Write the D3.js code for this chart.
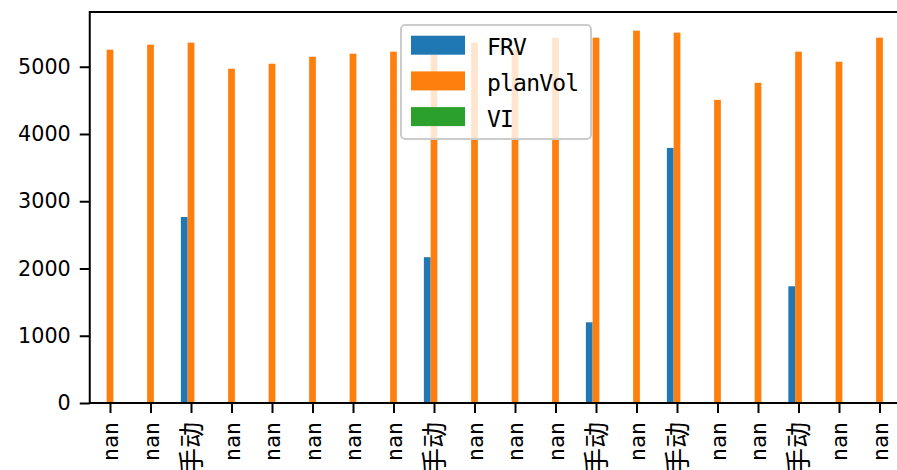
<!DOCTYPE html>
<html>
<head>
<meta charset="utf-8">
<script src="https://cdn.jsdelivr.net/npm/d3@7"></script>
<style>
  body { margin: 0; background: #fff; }
  svg { display: block; }
</style>
</head>
<body>
<svg id="chart" width="897" height="470"></svg>
<script>
// data
var labels = ["nan","nan","手动","nan","nan","nan","nan","nan","手动","nan",
              "nan","nan","手动","nan","手动","nan","nan","手动","nan","nan"];
var frv = [null,null,2765,null,null,null,null,null,2168,null,
           null,null,1200,null,3793,null,null,1736,null,null];
var planVol = [5253,5328,5358,4970,5045,5149,5194,5224,5180,5358,
               5253,5432,5432,5537,5507,4508,4761,5224,5075,5432];
var vi = [null,null,null,null,null,null,null,null,null,null,
          null,null,null,null,null,null,null,null,null,null];
var yTicks = [0,1000,2000,3000,4000,5000];

var seriesNames = ["FRV","planVol","VI"];
var seriesColors = ["#1f77b4","#ff7f0e","#2ca02c"];
var seriesData = [frv, planVol, vi];

var svg = d3.select("#chart");
// plot box (right spine falls just outside the picture, as in the original)
var plotL = 89.75, plotR = 899.75, plotT = 12, plotB = 403;

var x = d3.scaleLinear().domain([-0.5, labels.length - 0.5]).range([plotL, plotR]);
var yMax = d3.max(planVol.concat(frv)) * 1.05;
var y = d3.scaleLinear().domain([0, yMax]).range([plotB, plotT]);

var step = x(1) - x(0);
var barW = step * 0.5 / 3;

// bars
seriesData.forEach(function(vals, s) {
  var pts = vals.map(function(v, i) { return {i: i, v: v}; })
                .filter(function(d) { return d.v != null; });
  svg.append("g").selectAll("rect").data(pts).enter().append("rect")
    .attr("x", function(d) { return x(d.i) + (s - 1) * barW - barW / 2; })
    .attr("width", barW)
    .attr("y", function(d) { return y(d.v); })
    .attr("height", function(d) { return y(0) - y(d.v); })
    .attr("fill", seriesColors[s]);
});

// axes
var yAxis = svg.append("g")
    .attr("transform", "translate(" + plotL + ",0)")
    .call(d3.axisLeft(y).tickValues(yTicks).tickSize(10).tickPadding(9).tickFormat(d3.format("d")));
yAxis.selectAll("text")
    .attr("font-family", "DejaVu Sans")
    .attr("font-size", "20.7px")
    .attr("fill", "#000");

var xAxis = svg.append("g")
    .attr("transform", "translate(0," + plotB + ")")
    .call(d3.axisBottom(x).tickValues(d3.range(labels.length)).tickSize(10)
      .tickFormat(function(i) { return labels[i]; }));
xAxis.selectAll("text")
    .attr("transform", "rotate(-90)")
    .attr("x", -19)
    .attr("y", 0)
    .attr("dy", "0.36em")
    .attr("text-anchor", "end")
    .attr("font-family", "'DejaVu Sans Mono', 'Noto Sans CJK SC'")
    .attr("font-size", function(d) { return /[\u4e00-\u9fff]/.test(labels[d]) ? "26px" : "21.6px"; })
    .attr("fill", "#000");

[yAxis, xAxis].forEach(function(a) {
  a.select(".domain").remove();
  a.selectAll("line").attr("stroke", "#000").attr("stroke-width", 2);
});

// spines
svg.append("rect")
    .attr("x", plotL).attr("y", plotT)
    .attr("width", plotR - plotL).attr("height", plotB - plotT)
    .attr("fill", "none").attr("stroke", "#000").attr("stroke-width", 2);

// legend
var lg = svg.append("g").attr("transform", "translate(401,25)");
lg.append("rect")
    .attr("width", 190).attr("height", 114)
    .attr("rx", 4).attr("ry", 4)
    .attr("fill", "#fff").attr("fill-opacity", 0.8)
    .attr("stroke", "#cccccc").attr("stroke-width", 2);
var items = lg.selectAll("g.item").data(seriesNames).enter().append("g")
    .attr("transform", function(d, i) { return "translate(10," + (10.7 + i * 35.7) + ")"; });
items.append("rect")
    .attr("width", 54).attr("height", 19)
    .attr("fill", function(d, i) { return seriesColors[i]; });
items.append("text")
    .attr("x", 76).attr("y", 19.5)
    .attr("font-family", "'DejaVu Sans Mono'")
    .attr("font-size", "23px")
    .attr("letter-spacing", "-0.8px")
    .attr("fill", "#000")
    .text(function(d) { return d; });
</script>
</body>
</html>
